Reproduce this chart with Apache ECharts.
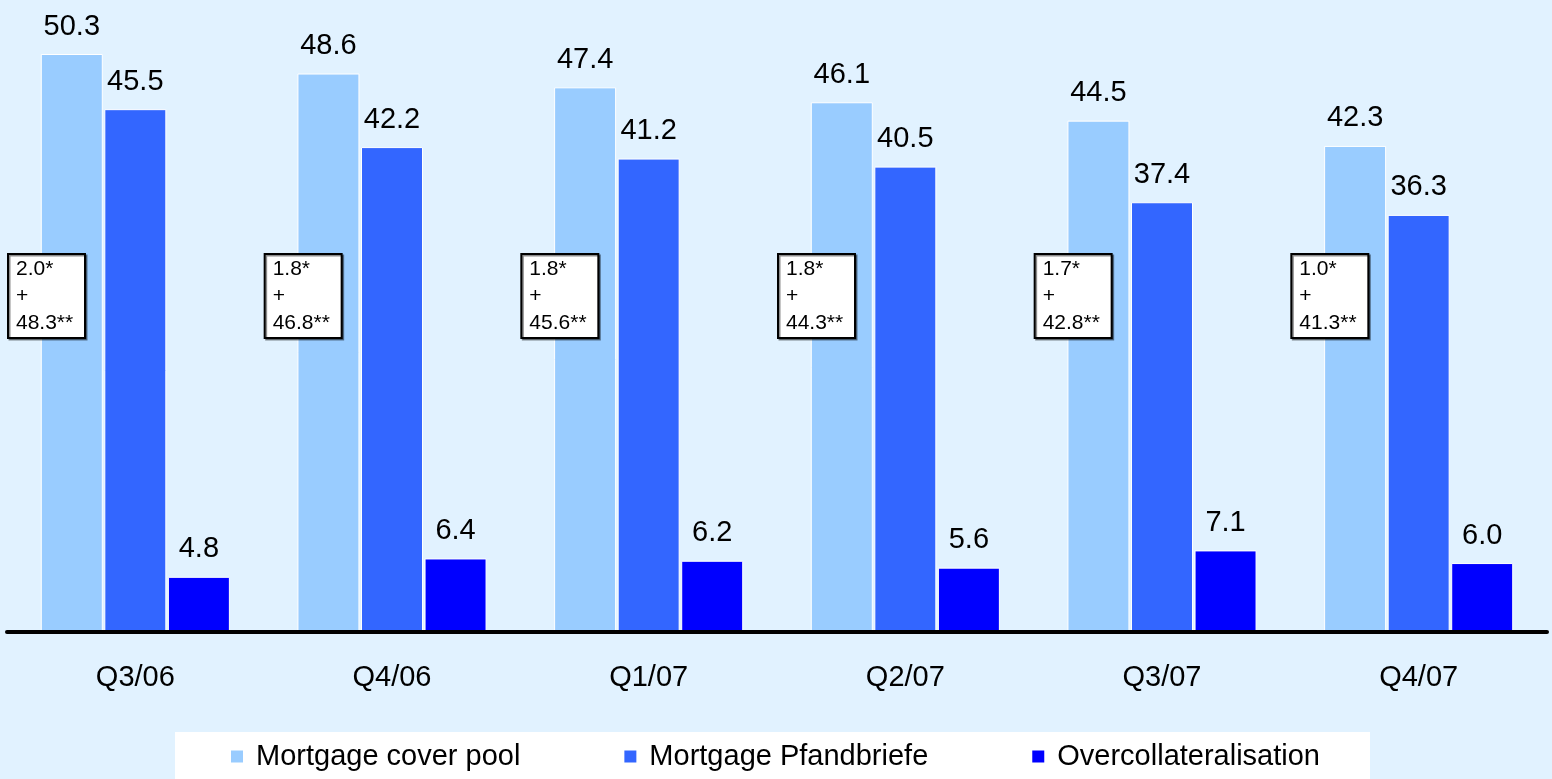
<!DOCTYPE html>
<html>
<head>
<meta charset="utf-8">
<script src="https://cdn.jsdelivr.net/npm/echarts@6/dist/echarts.min.js"></script>
<style>
html, body { margin: 0; padding: 0; background: #E1F2FF; }
#chart { width: 1552px; height: 779px; }
</style>
</head>
<body>
<div id="chart"></div>
<script>
const quarters = ['Q3/06', 'Q4/06', 'Q1/07', 'Q2/07', 'Q3/07', 'Q4/07'];
const coverPool = [50.3, 48.6, 47.4, 46.1, 44.5, 42.3];
const pfandbriefe = [45.5, 42.2, 41.2, 40.5, 37.4, 36.3];
const overcollat = [4.8, 6.4, 6.2, 5.6, 7.1, 6.0];
// cover pool split shown in the boxes
const splitA = [2.0, 1.8, 1.8, 1.8, 1.7, 1.0];
const splitB = [48.3, 46.8, 45.6, 44.3, 42.8, 41.3];
const seriesNames = ['Mortgage cover pool', 'Mortgage Pfandbriefe', 'Overcollateralisation'];

const FONT = '"Liberation Sans", Arial, sans-serif';
const chart = echarts.init(document.getElementById('chart'));

const barLabel = {
    show: true,
    position: 'top',
    distance: 13,
    fontSize: 29,
    color: '#000',
    fontFamily: FONT,
    formatter: (p) => p.value.toFixed(1)
};

const makeBar = (name, data, color) => ({
    name: name,
    type: 'bar',
    data: data,
    barWidth: 62,
    barGap: '2.5%',
    itemStyle: { color: color, borderColor: '#fff', borderWidth: 1 },
    label: barLabel,
    z: 2
});

const option = {
    backgroundColor: '#E1F2FF',
    animation: false,
    grid: { left: 7, right: 5, top: 0, bottom: 147 },
    xAxis: {
        type: 'category',
        data: quarters,
        z: 10,
        axisLine: { lineStyle: { color: '#000', width: 4 } },
        axisTick: { show: false },
        axisLabel: { fontSize: 29, color: '#000', margin: 31, fontFamily: FONT }
    },
    yAxis: {
        type: 'value',
        min: 0,
        max: 55,
        show: false,
        splitLine: { show: false }
    },
    legend: {
        data: seriesNames,
        left: 175,
        top: 732,
        padding: [10, 50, 10, 54],
        itemGap: 102,
        itemWidth: 14,
        itemHeight: 14,
        icon: 'rect',
        backgroundColor: '#fff',
        textStyle: { fontSize: 29, color: '#000', fontFamily: FONT, padding: [0, 0, 0, 7] }
    },
    series: [
        makeBar(seriesNames[0], coverPool, '#99CCFF'),
        makeBar(seriesNames[1], pfandbriefe, '#3366FF'),
        makeBar(seriesNames[2], overcollat, '#0000FF'),
        {
            type: 'custom',
            data: quarters.map((q, i) => [i]),
            z: 5,
            renderItem: function (params, api) {
                const i = api.value(0);
                const pt = api.coord([i, 32.9]);
                const band = api.size([1, 0])[0];
                const x0 = pt[0] - band / 2 + 1;
                return {
                    type: 'group',
                    children: [
                        {
                            type: 'rect',
                            shape: { x: x0, y: pt[1], width: 77, height: 84 },
                            style: {
                                fill: '#fff', stroke: '#000', lineWidth: 2,
                                shadowColor: 'rgba(0,0,0,0.45)', shadowOffsetX: 1.5, shadowOffsetY: 1.5
                            }
                        },
                        {
                            type: 'text',
                            style: {
                                x: x0 + 8,
                                y: pt[1] + 2,
                                text: splitA[i].toFixed(1) + '*\n+\n' + splitB[i].toFixed(1) + '**',
                                fontSize: 21,
                                lineHeight: 27,
                                fontFamily: FONT,
                                fill: '#000',
                                align: 'left',
                                verticalAlign: 'top'
                            }
                        }
                    ]
                };
            }
        }
    ]
};

chart.setOption(option);
</script>
</body>
</html>
